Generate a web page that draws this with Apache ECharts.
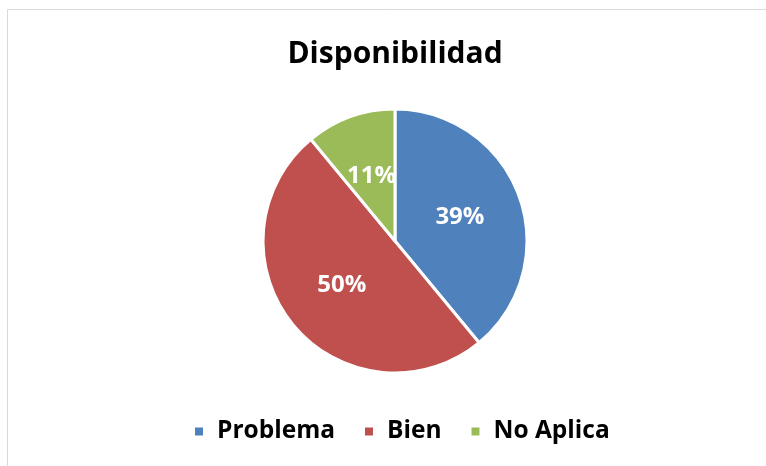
<!DOCTYPE html>
<html>
<head>
<meta charset="utf-8">
<script src="https://cdn.jsdelivr.net/npm/echarts@6/dist/echarts.min.js"></script>
<style>html,body{margin:0;padding:0;background:#fff}#c{width:766px;height:466px}</style>
</head>
<body>
<div id="c"></div>
<script>
const titleText = 'Disponibilidad';
const categories = ['Problema', 'Bien', 'No Aplica'];
const values = [39, 50, 11];
const colors = ['#4F81BD', '#C0504D', '#9BBB59'];

const chart = echarts.init(document.getElementById('c'), null, {renderer: 'canvas'});
const font = '"Open Sans", sans-serif';
chart.setOption({
  animation: false,
  backgroundColor: '#fff',
  color: colors,
  title: {
    text: titleText, left: 390, textAlign: 'center', top: 34,
    textStyle: {fontFamily: font, fontWeight: 'bold', fontSize: 30, color: '#000'}
  },
  legend: {
    bottom: 17, left: 188, itemWidth: 10, itemHeight: 10, itemGap: 28,
    icon: 'rect',
    textStyle: {fontFamily: font, fontWeight: 'bold', fontSize: 24.5, color: '#000', padding: [0, 0, 0, 8]},
    data: categories
  },
  graphic: [{
    type: 'rect', shape: {x: 7.5, y: 9.5, width: 900, height: 600},
    style: {fill: 'none', stroke: '#d9d9d9', lineWidth: 1}, silent: true
  }],
  series: [{
    type: 'pie', center: [395, 241], radius: [0, 132], startAngle: 90, clockwise: true,
    itemStyle: {borderColor: '#fff', borderWidth: 3},
    label: {position: 'inside', formatter: '{d}%', color: '#fff', fontFamily: font, fontWeight: 'bold', fontSize: 24},
    labelLine: {show: false},
    emphasis: {disabled: true},
    data: categories.map((c, i) => ({name: c, value: values[i]}))
  }]
});
</script>
</body>
</html>
